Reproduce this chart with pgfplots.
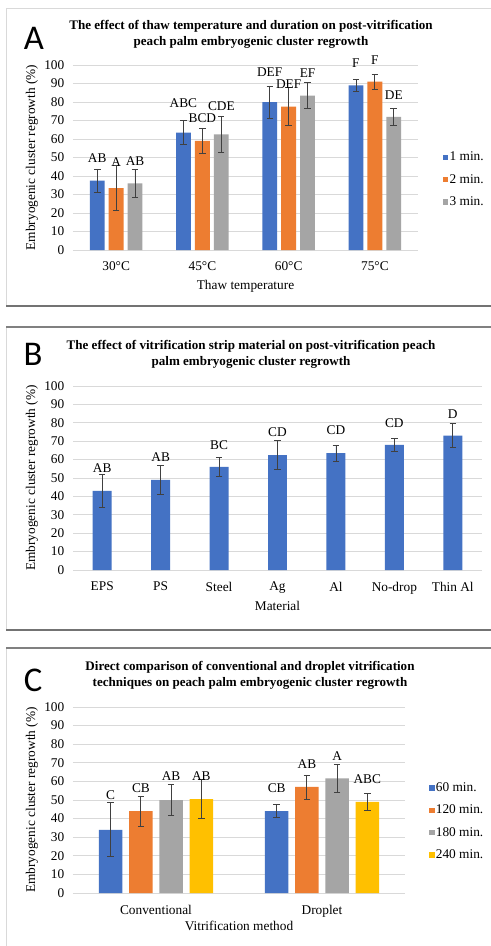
\documentclass[border=0pt]{standalone}
\usepackage{pgfplots}
\pgfplotsset{compat=1.18}
\usepackage{pgfplotstable}
\usepackage{fontspec}
\setmainfont{Liberation Serif}
\newfontfamily\lettfont{Carlito}
\definecolor{cblue}{HTML}{4472C4}
\definecolor{corange}{HTML}{ED7D31}
\definecolor{cgray}{HTML}{A5A5A5}
\definecolor{cyellow}{HTML}{FFC000}
\definecolor{gridc}{HTML}{D9D9D9}
\definecolor{errc}{HTML}{404040}

% x positions of the bars: category index plus the bar's offset in its group
\pgfplotstableread{
xb xo xg blue blueerr orange orangeerr gray grayerr
-0.218 0 0.218 37.5 6.3 33.5 12.0 36.0 7.6
0.782 1 1.218 63.5 6.3 59.0 7.0 62.5 9.5
1.782 2 2.218 80.0 8.7 77.5 10.3 83.5 6.9
2.782 3 3.218 89.0 3.4 91.0 4.0 72.0 4.7
}\dataA
\pgfplotstableread{
lx ly lab
-0.22 49.5 AB
0 47.7 A
0.22 48.1 AB
0.78 79.6 ABC
1 71.2 BCD
1.22 77.8 CDE
1.78 96.4 DEF
2 89.7 DEF
2.22 95.5 EF
2.78 101.2 F
3 102.7 F
3.22 83.8 DE
}\labA
\pgfplotstableread{
x y err
0 43.0 8.8
1 49.0 7.8
2 56.0 5.0
3 62.5 7.8
4 63.5 4.3
5 68.0 3.5
6 73.0 6.5
}\dataB
\pgfplotstableread{
lx ly lab
0 55.3 AB
1 61.6 AB
2 67.9 BC
3 74.8 CD
4 76.1 CD
5 79.7 CD
6 84.8 D
}\labB
\pgfplotstableread{
x1 x2 x3 x4 s60 e60 s120 e120 s180 e180 s240 e240
-0.273 -0.091 0.091 0.273 34.0 14.5 44.0 8.0 50.0 8.5 50.5 10.5
0.727 0.909 1.091 1.273 44.0 3.5 57.0 6.5 61.7 7.5 49.0 4.5
}\dataC
\pgfplotstableread{
lx ly lab
-0.273 52.7 C
-0.091 56.3 CB
0.091 62.6 AB
0.273 62.6 AB
0.727 56.3 CB
0.909 69.4 AB
1.091 73.7 A
1.273 61.2 ABC
}\labC

\pgfplotsset{
  panel/.style={
    scale only axis, clip=false, enlargelimits=false,
    ymin=0, ymax=100, ytick={0,10,...,100},
    axis line style={draw=none},
    tick style={draw=none},
    ymajorgrids, grid style={draw=gridc, line width=0.7pt},
    tick label style={font=\fontsize{10}{12}\selectfont},
    /pgf/number format/assume math mode=true,
    label style={font=\fontsize{10}{12}\selectfont},
    yticklabel style={xshift=-3pt},
    xticklabel style={yshift=-5.5pt},
    every axis y label/.style={rotate=90, anchor=center},
    every axis x label/.style={anchor=center},
    ylabel={Embryogenic cluster regrowth (\%)},
    legend style={draw=none, fill=none, font=\fontsize{10}{12}\selectfont,
      row sep=6.6pt, anchor=west, legend cell align=left,
      nodes={inner sep=1pt}},
    legend image code/.code={\fill[#1,draw=none] (0pt,-2pt) rectangle (4pt,2pt);},
    errb/.style={error bars/.cd, y dir=both, y explicit, error mark=|,
      error bar style={line width=0.6pt, draw=errc, solid},
      error mark options={mark size=2.4pt, line width=0.6pt, draw=errc, solid}},
    labs/.style={draw=none, mark=none, forget plot, nodes near coords,
      point meta=explicit symbolic,
      every node near coord/.style={anchor=center, inner sep=0pt, font=\fontsize{10}{12}\selectfont, black}},
  }
}

\begin{document}
\begin{tikzpicture}
\useasboundingbox (0pt,0pt) rectangle (368.25pt,-709.5pt);
\fill[white] (0pt,0pt) rectangle (368.25pt,-709.5pt);
% panel frames
\draw[gridc, line width=0.7pt] (4.5pt,-229.5pt) -- (4.5pt,-6pt) -- (368.25pt,-6pt);
\draw[black!55, line width=1.3pt] (4.5pt,-229.5pt) -- (368.25pt,-229.5pt);
\draw[gridc, line width=0.7pt] (4.5pt,-472.5pt) -- (4.5pt,-245.25pt);
\draw[black!50, line width=1pt] (4.5pt,-245.25pt) -- (368.25pt,-245.25pt);
\draw[black!55, line width=1.3pt] (4.5pt,-472.5pt) -- (368.25pt,-472.5pt);
\draw[gridc, line width=0.7pt] (4.5pt,-709.5pt) -- (4.5pt,-486pt);
\draw[black!50, line width=1pt] (4.5pt,-486pt) -- (368.25pt,-486pt);

% titles and letters
\node[align=center, font=\fontsize{9.8}{12}\selectfont\bfseries] at (188.25pt,-25.5pt)
  {The effect of thaw temperature and duration on post-vitrification\\peach palm embryogenic cluster regrowth};
\node[font=\fontsize{26}{28}\selectfont\lettfont] at (25.5pt,-28.5pt) {A};
\node[align=center, font=\fontsize{9.8}{12}\selectfont\bfseries] at (188.25pt,-266pt)
  {The effect of vitrification strip material on post-vitrification peach\\palm embryogenic cluster regrowth};
\node[font=\fontsize{26}{28}\selectfont\lettfont] at (24.75pt,-265.5pt) {B};
\node[align=center, font=\fontsize{9.8}{12}\selectfont\bfseries] at (187.5pt,-506.6pt)
  {Direct comparison of conventional and droplet vitrification\\techniques on peach palm embryogenic cluster regrowth};
\node[font=\fontsize{26}{28}\selectfont\lettfont] at (24.75pt,-510pt) {C};

% Panel A
\begin{axis}[panel, at={(54.75pt,-187.5pt)}, anchor=south west,
  width=258.75pt, height=138.75pt,
  xmin=-0.5, xmax=3.5, xtick={0,1,2,3},
  xticklabels={30°C,45°C,60°C,75°C},
  xlabel={Thaw temperature},
  xlabel style={at={(axis description cs:0.5,0)}, yshift=-27.5pt},
  ylabel style={at={(axis description cs:-0.119,0.5)}},
  legend style={at={(axis description cs:1.06,0.38)}}]
\addplot[ybar, bar width=0.172, bar shift=0, fill=cblue, draw=none, errb]
  table[x=xb, y=blue, y error=blueerr] {\dataA};
\addplot[ybar, bar width=0.172, bar shift=0, fill=corange, draw=none, errb]
  table[x=xo, y=orange, y error=orangeerr] {\dataA};
\addplot[ybar, bar width=0.172, bar shift=0, fill=cgray, draw=none, errb]
  table[x=xg, y=gray, y error=grayerr] {\dataA};
\legend{1 min.,2 min.,3 min.}
\addplot[labs] table[x=lx, y=ly, meta=lab] {\labA};
\end{axis}

% Panel B
\begin{axis}[panel, at={(54.75pt,-427.5pt)}, anchor=south west,
  width=306.75pt, height=138pt,
  xmin=-0.5, xmax=6.5, xtick={0,...,6},
  xticklabels={EPS,PS,Steel,Ag,Al,No-drop,Thin Al},
  xlabel={Material},
  xlabel style={at={(axis description cs:0.5,0)}, yshift=-27pt},
  ylabel style={at={(axis description cs:-0.1002,0.5)}}]
\addplot[ybar, bar width=0.325, bar shift=0, fill=cblue, draw=none, errb]
  table[x=x, y=y, y error=err] {\dataB};
\addplot[labs] table[x=lx, y=ly, meta=lab] {\labB};
\end{axis}

% Panel C
\begin{axis}[panel, at={(54.75pt,-669.75pt)}, anchor=south west,
  width=249pt, height=139.5pt,
  xmin=-0.5, xmax=1.5, xtick={0,1},
  xticklabels={Conventional,Droplet},
  xlabel={Vitrification method},
  xlabel style={at={(axis description cs:0.5,0)}, yshift=-25pt},
  ylabel style={at={(axis description cs:-0.1235,0.5)}},
  legend style={at={(axis description cs:1.06,0.385)}}]
\addplot[ybar, bar width=0.141, bar shift=0, fill=cblue, draw=none, errb]
  table[x=x1, y=s60, y error=e60] {\dataC};
\addplot[ybar, bar width=0.141, bar shift=0, fill=corange, draw=none, errb]
  table[x=x2, y=s120, y error=e120] {\dataC};
\addplot[ybar, bar width=0.141, bar shift=0, fill=cgray, draw=none, errb]
  table[x=x3, y=s180, y error=e180] {\dataC};
\addplot[ybar, bar width=0.141, bar shift=0, fill=cyellow, draw=none, errb]
  table[x=x4, y=s240, y error=e240] {\dataC};
\legend{60 min.,120 min.,180 min.,240 min.}
\addplot[labs] table[x=lx, y=ly, meta=lab] {\labC};
\end{axis}
\end{tikzpicture}
\end{document}
